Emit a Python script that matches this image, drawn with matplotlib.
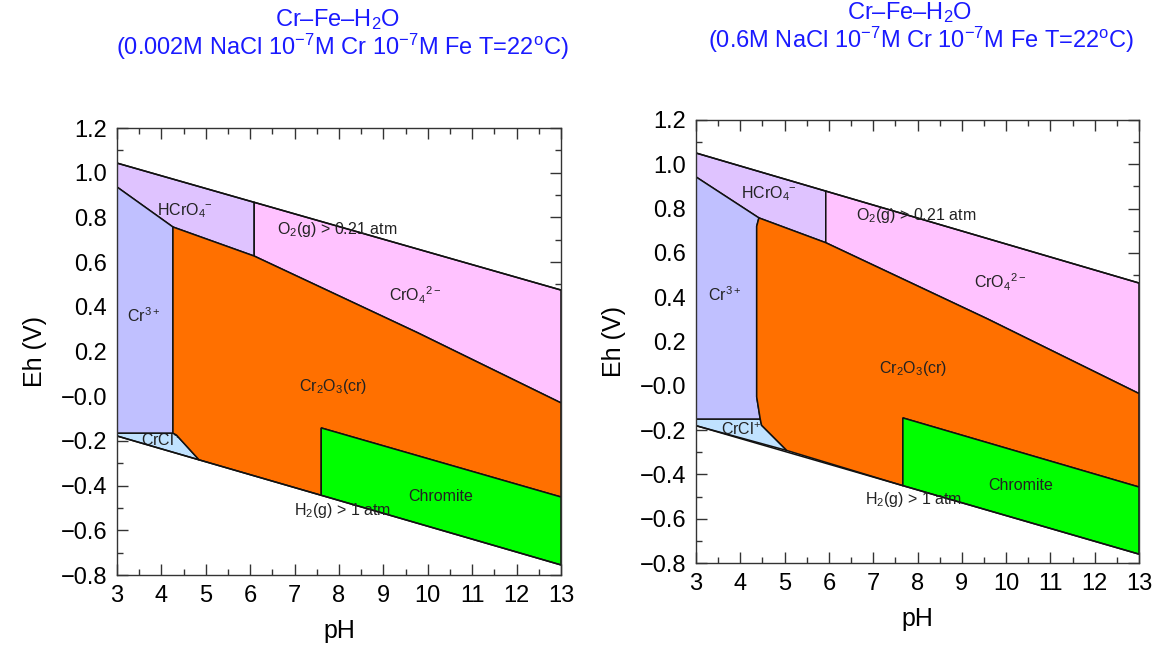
import numpy as np
import matplotlib
matplotlib.use("Agg")
import matplotlib.pyplot as plt
from matplotlib.patches import Polygon
from matplotlib.ticker import MultipleLocator, FixedLocator, FixedFormatter

plt.rcParams['font.family'] = ['Liberation Sans', 'DejaVu Sans']
plt.rcParams['mathtext.fontset'] = 'custom'
plt.rcParams['mathtext.rm'] = 'Liberation Sans'
plt.rcParams['mathtext.it'] = 'Liberation Sans:italic'
plt.rcParams['mathtext.bf'] = 'Liberation Sans:bold'

# ---------------- data ----------------
PH_LIM = [3, 13]
EH_LIM = [-0.8, 1.2]
X_TICKS = [3, 4, 5, 6, 7, 8, 9, 10, 11, 12, 13]
Y_TICKS = [1.2, 1.0, 0.8, 0.6, 0.4, 0.2, 0.0, -0.2, -0.4, -0.6, -0.8]
Y_TICK_LABELS = ["1.2", "1.0", "0.8", "0.6", "0.4", "0.2", "\u22120.0",
                 "\u22120.2", "\u22120.4", "\u22120.6", "\u22120.8"]

TITLE_LINE1 = "Cr\u2013Fe\u2013H$_2$O"
TITLE_LINE2_LEFT = "(0.002M NaCl 10$^{-7}$M Cr 10$^{-7}$M Fe T=22$^{\\mathrm{o}}$C)"
TITLE_LINE2_RIGHT = "(0.6M NaCl 10$^{-7}$M Cr 10$^{-7}$M Fe T=22$^{\\mathrm{o}}$C)"

# water stability lines (Eh at pH 3 and pH 13)
O2_LEFT = [1.043, 0.475]
H2_LEFT = [-0.178, -0.755]
O2_RIGHT = [1.051, 0.464]
H2_RIGHT = [-0.180, -0.760]

# Cr3+ / HCrO4- boundary
CR3_HCRO4_PH_LEFT = [3.0, 4.26]
CR3_HCRO4_EH_LEFT = [0.936, 0.757]
CR3_HCRO4_PH_RIGHT = [3.0, 4.42]
CR3_HCRO4_EH_RIGHT = [0.943, 0.758]

# Cr2O3 upper boundary (HCrO4- / CrO4 2-)
CR2O3_TOP_PH_LEFT = [4.26, 6.09, 9.76, 13.0]
CR2O3_TOP_EH_LEFT = [0.757, 0.627, 0.285, -0.030]
CR2O3_TOP_PH_RIGHT = [4.42, 5.93, 9.57, 13.0]
CR2O3_TOP_EH_RIGHT = [0.758, 0.646, 0.303, -0.035]

# HCrO4- / CrO4 2- vertical boundary
HCRO4_CRO4_PH_LEFT = 6.09
HCRO4_CRO4_PH_RIGHT = 5.93

# Cr3+ / Cr2O3 boundary (top to bottom)
CR3_CR2O3_PH_LEFT = [4.26, 4.26]
CR3_CR2O3_EH_LEFT = [0.757, -0.165]
CR3_CR2O3_PH_RIGHT = [4.42, 4.37, 4.37, 4.45]
CR3_CR2O3_EH_RIGHT = [0.758, 0.72, -0.05, -0.150]

# Cr3+ / CrCl+ boundary level
CRCL_TOP_EH_LEFT = -0.165
CRCL_TOP_EH_RIGHT = -0.150

# CrCl+ / Cr2O3 boundary (top to H2 line)
CRCL_CR2O3_PH_LEFT = [4.26, 4.34, 4.85]
CRCL_CR2O3_EH_LEFT = [-0.165, -0.174, -0.285]
CRCL_CR2O3_PH_RIGHT = [4.45, 4.48, 5.05]
CRCL_CR2O3_EH_RIGHT = [-0.150, -0.178, -0.292]

# Chromite field: left edge pH, upper boundary Eh at left edge and at pH 13
CHROMITE_PH_LEFT = 7.6
CHROMITE_TOP_EH_LEFT = [-0.142, -0.451]
CHROMITE_PH_RIGHT = 7.67
CHROMITE_TOP_EH_RIGHT = [-0.145, -0.457]

# colours
C_HCRO4 = "#dfc3ff"
C_CRO4 = "#ffc2ff"
C_CR3 = "#c0c0ff"
C_CRCL = "#c0e2ff"
C_CR2O3 = "#ff7000"
C_CHROMITE = "#00ff00"

# labels: text, pH, Eh
LABELS_LEFT = [
    ("HCrO$_4$$^{-}$", 4.53, 0.83),
    ("O$_2$(g) > 0.21 atm", 7.95, 0.745),
    ("CrO$_4$$^{2-}$", 9.71, 0.45),
    ("Cr$^{3+}$", 3.6, 0.36),
    ("Cr$_2$O$_3$(cr)", 7.86, 0.045),
    ("Chromite", 10.3, -0.447),
    ("H$_2$(g) > 1 atm", 8.07, -0.512),
]
LABELS_RIGHT = [
    ("HCrO$_4$$^{-}$", 4.65, 0.866),
    ("O$_2$(g) > 0.21 atm", 7.97, 0.77),
    ("CrO$_4$$^{2-}$", 9.86, 0.466),
    ("Cr$^{3+}$", 3.65, 0.41),
    ("Cr$_2$O$_3$(cr)", 7.9, 0.079),
    ("Chromite", 10.34, -0.452),
    ("H$_2$(g) > 1 atm", 7.9, -0.515),
]
CRCL_LABEL = "CrCl$^{+}$"
CRCL_POS_LEFT = (4.0, -0.197)
CRCL_POS_RIGHT = (4.02, -0.200)


def panel(ax, o2, h2, c3h_ph, c3h_eh, top_ph, top_eh, hc_ph,
          c3c_ph, c3c_eh, crcl_top, ccr_ph, ccr_eh, chr_ph, chr_top,
          labels, crcl_pos):
    def O2(p):
        return np.interp(p, PH_LIM, o2)

    def H2(p):
        return np.interp(p, PH_LIM, h2)

    lw = 1.1
    ec = "#111111"
    hcro4 = [(3, O2(3)), (hc_ph, O2(hc_ph)), (hc_ph, np.interp(hc_ph, top_ph, top_eh))]
    hcro4 += [(p, e) for p, e in zip(top_ph[::-1], top_eh[::-1]) if p < hc_ph]
    hcro4 += [(c3h_ph[0], c3h_eh[0])]
    cro4 = [(hc_ph, O2(hc_ph)), (13, O2(13))]
    cro4 += [(p, e) for p, e in zip(top_ph[::-1], top_eh[::-1]) if p > hc_ph]
    cro4 += [(hc_ph, np.interp(hc_ph, top_ph, top_eh))]
    cr3 = list(zip(c3h_ph, c3h_eh)) + list(zip(c3c_ph, c3c_eh))[1:] + [(3, crcl_top)]
    crcl = [(3, crcl_top)] + list(zip(ccr_ph, ccr_eh)) + [(3, H2(3))]
    chrom = [(chr_ph, chr_top[0]), (13, chr_top[1]), (13, H2(13)), (chr_ph, H2(chr_ph))]
    cr2o3 = list(zip(top_ph, top_eh)) + [(13, chr_top[1]), (chr_ph, chr_top[0]),
                                         (chr_ph, H2(chr_ph))]
    cr2o3 += list(zip(ccr_ph[::-1], ccr_eh[::-1]))
    cr2o3 += list(zip(c3c_ph[::-1], c3c_eh[::-1]))[1:]

    for verts, col, z in [(hcro4, C_HCRO4, 2), (cro4, C_CRO4, 2), (crcl, C_CRCL, 2),
                          (cr3, C_CR3, 4), (cr2o3, C_CR2O3, 4), (chrom, C_CHROMITE, 4)]:
        ax.add_patch(Polygon(verts, closed=True, facecolor=col, edgecolor=ec,
                             linewidth=lw, zorder=z))
    ax.plot(PH_LIM, o2, color=ec, lw=lw, zorder=5)
    ax.plot(PH_LIM, h2, color=ec, lw=lw, zorder=5)

    for t, x, y in labels:
        ax.text(x, y, t, ha="center", va="center", fontsize=11.5, color="#222222", zorder=6)
    ax.text(crcl_pos[0], crcl_pos[1], CRCL_LABEL, ha="center", va="center",
            fontsize=11.5, color="#222222", zorder=3)

    ax.set_xlim(PH_LIM)
    ax.set_ylim(EH_LIM)
    ax.xaxis.set_major_locator(FixedLocator(X_TICKS))
    ax.xaxis.set_minor_locator(MultipleLocator(0.5))
    ax.yaxis.set_major_locator(FixedLocator(Y_TICKS))
    ax.yaxis.set_major_formatter(FixedFormatter(Y_TICK_LABELS))
    ax.yaxis.set_minor_locator(MultipleLocator(0.1))
    ax.tick_params(which="both", direction="in", top=True, right=True, labelsize=17,
                   width=1.0, color="#333333")
    ax.tick_params(which="major", length=8, pad=7)
    ax.tick_params(which="minor", length=4)
    ax.set_xlabel("pH", fontsize=18, labelpad=9)
    ax.set_ylabel("Eh (V)", fontsize=18, labelpad=10)
    for s in ax.spines.values():
        s.set_linewidth(1.0)
        s.set_color("#333333")
        s.set_zorder(7)


W, H = 1157, 648
fig = plt.figure(figsize=(W / 100, H / 100), dpi=100)
axL = fig.add_axes([117 / W, 1 - 575 / H, 444 / W, 447 / H])
axR = fig.add_axes([696 / W, 1 - 563 / H, 443 / W, 443 / H])

panel(axL, O2_LEFT, H2_LEFT, CR3_HCRO4_PH_LEFT, CR3_HCRO4_EH_LEFT,
      CR2O3_TOP_PH_LEFT, CR2O3_TOP_EH_LEFT, HCRO4_CRO4_PH_LEFT,
      CR3_CR2O3_PH_LEFT, CR3_CR2O3_EH_LEFT, CRCL_TOP_EH_LEFT,
      CRCL_CR2O3_PH_LEFT, CRCL_CR2O3_EH_LEFT, CHROMITE_PH_LEFT,
      CHROMITE_TOP_EH_LEFT, LABELS_LEFT, CRCL_POS_LEFT)
panel(axR, O2_RIGHT, H2_RIGHT, CR3_HCRO4_PH_RIGHT, CR3_HCRO4_EH_RIGHT,
      CR2O3_TOP_PH_RIGHT, CR2O3_TOP_EH_RIGHT, HCRO4_CRO4_PH_RIGHT,
      CR3_CR2O3_PH_RIGHT, CR3_CR2O3_EH_RIGHT, CRCL_TOP_EH_RIGHT,
      CRCL_CR2O3_PH_RIGHT, CRCL_CR2O3_EH_RIGHT, CHROMITE_PH_RIGHT,
      CHROMITE_TOP_EH_RIGHT, LABELS_RIGHT, CRCL_POS_RIGHT)

blue = "#1a1aff"
fig.text(338 / W, 1 - 20 / H, TITLE_LINE1, ha="center", va="center", fontsize=17, color=blue)
fig.text(342 / W, 1 - 47 / H, TITLE_LINE2_LEFT, ha="center", va="center", fontsize=17, color=blue)
fig.text(910 / W, 1 - 13 / H, TITLE_LINE1, ha="center", va="center", fontsize=17, color=blue)
fig.text(921 / W, 1 - 40 / H, TITLE_LINE2_RIGHT, ha="center", va="center", fontsize=17, color=blue)

fig.savefig("out.png", dpi=100)
